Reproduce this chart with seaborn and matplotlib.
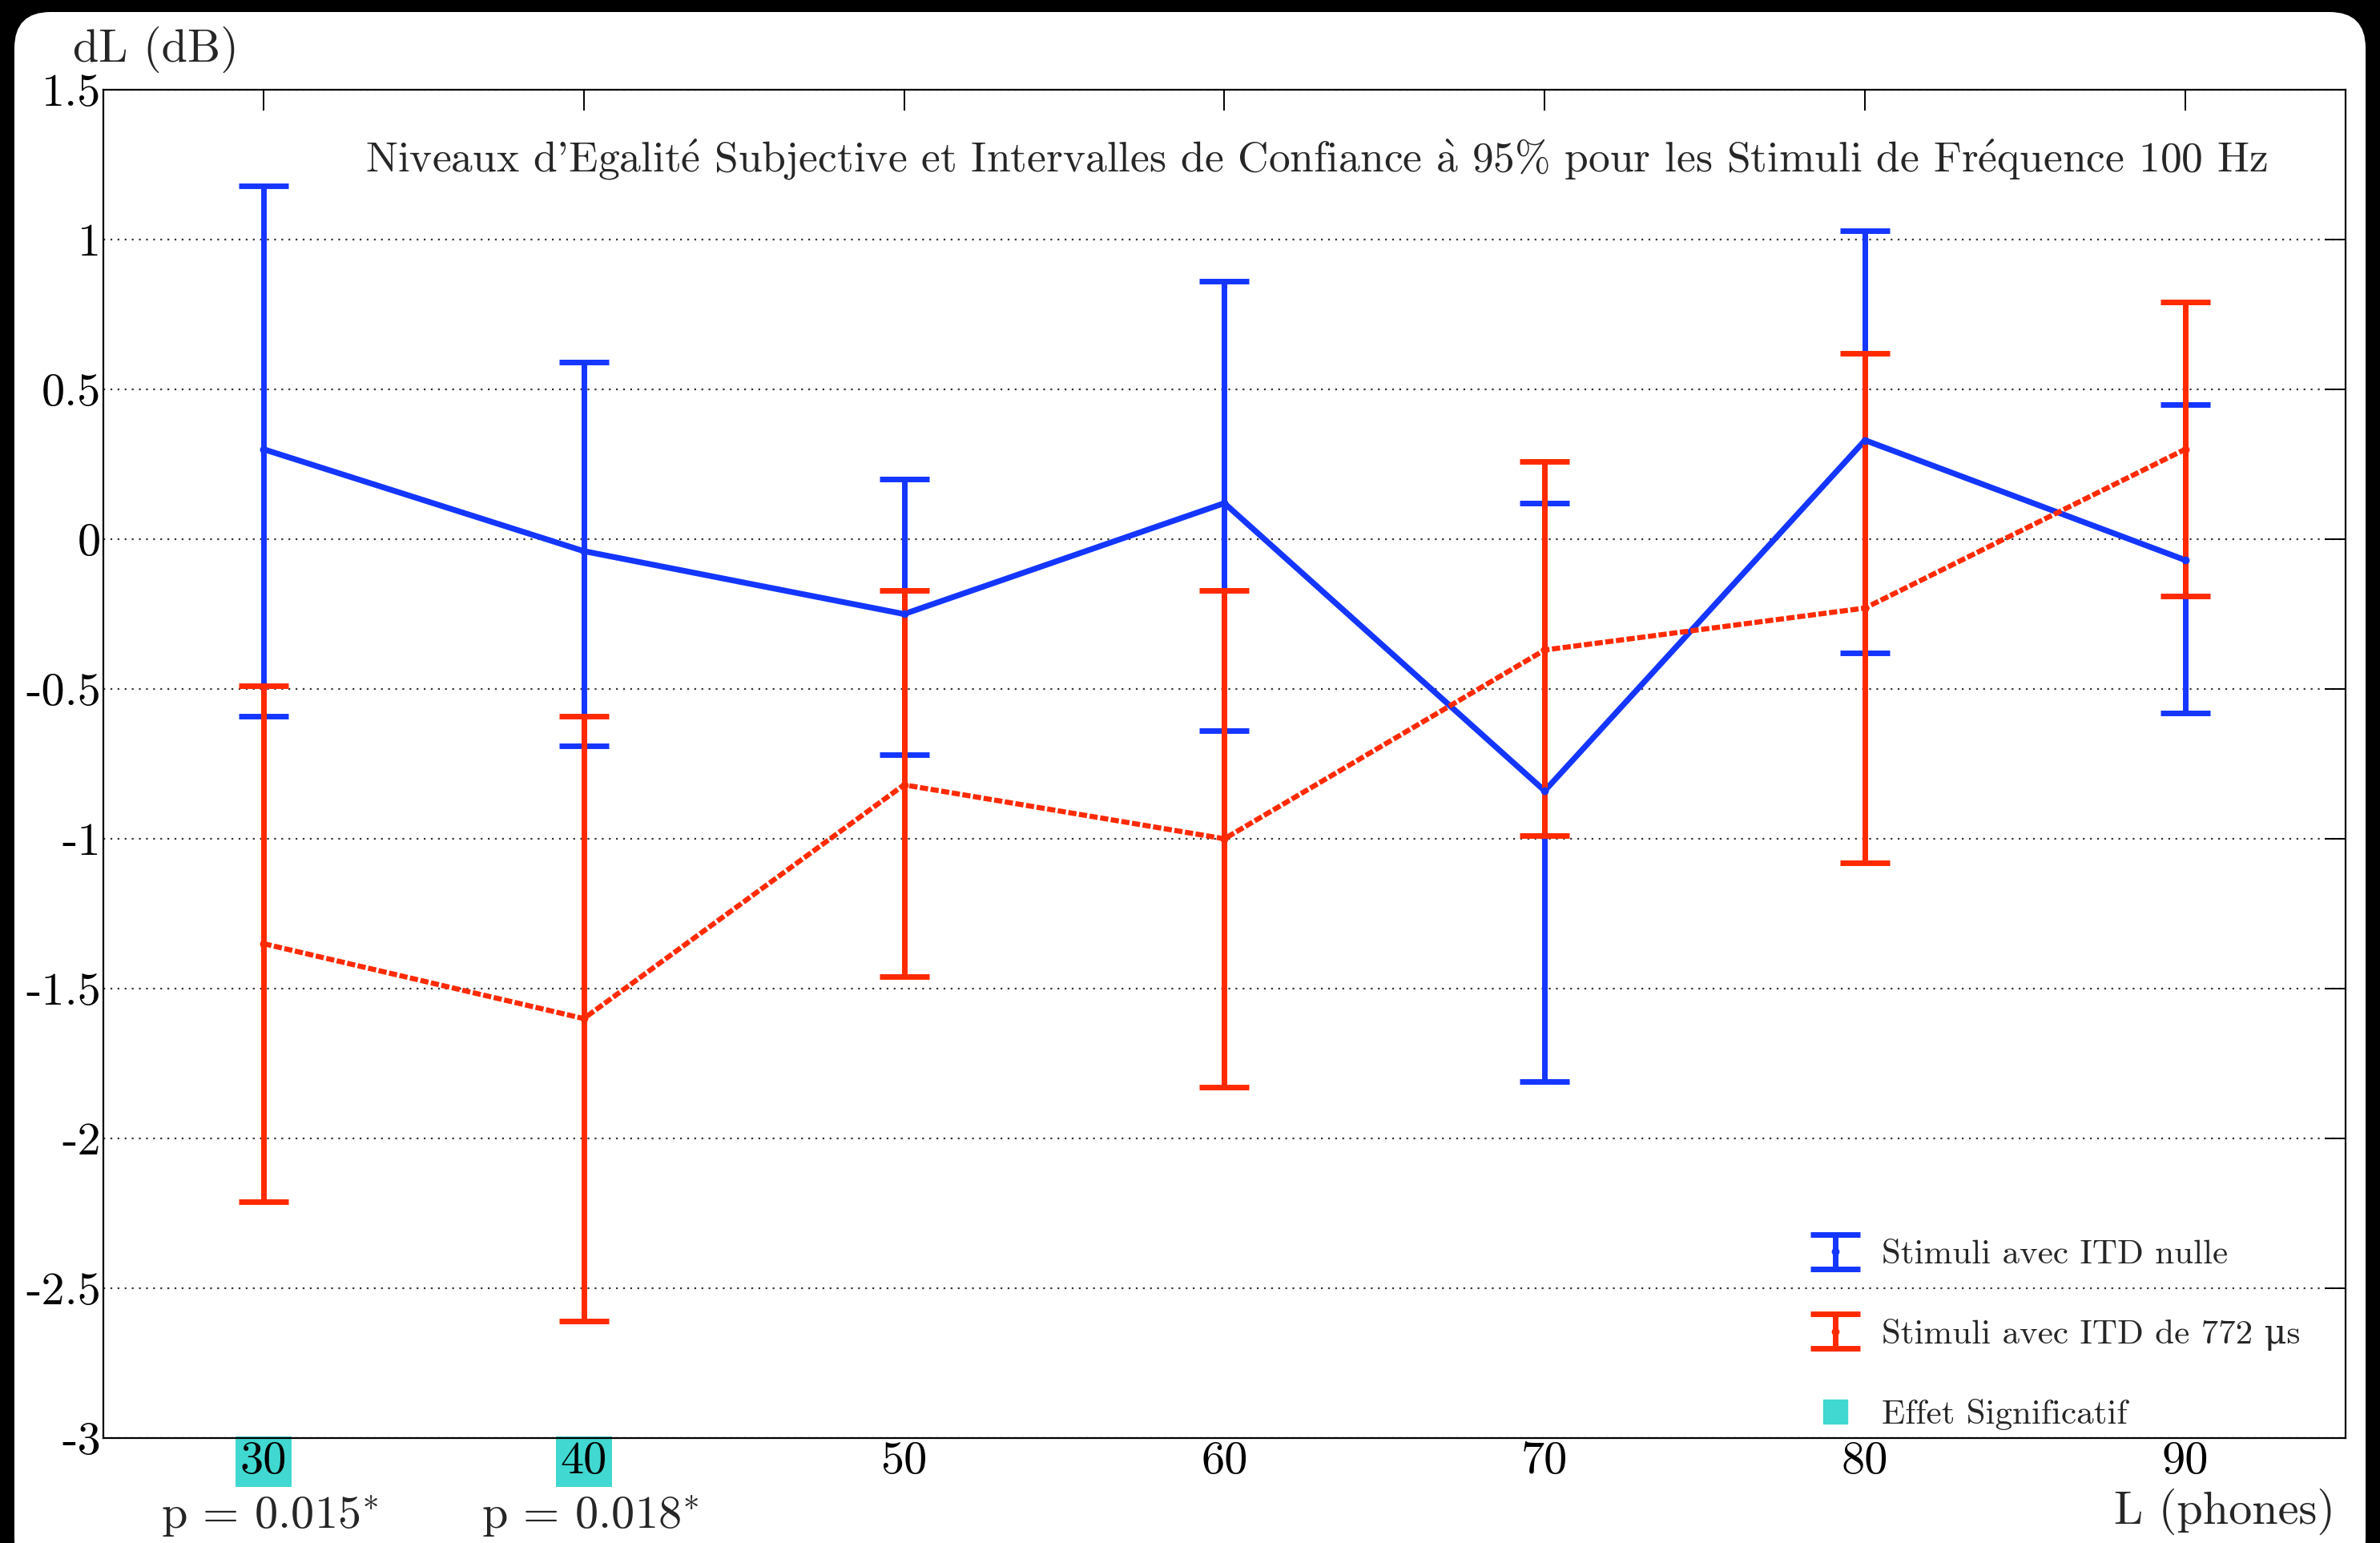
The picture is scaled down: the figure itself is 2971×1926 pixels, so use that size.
"""Niveaux d'egalite subjective, stimuli 100 Hz, avec intervalles de confiance a 95%."""

import matplotlib
matplotlib.use("Agg")
import matplotlib.pyplot as plt
import matplotlib.transforms as mtransforms
from matplotlib.lines import Line2D
from matplotlib.patches import FancyBboxPatch
import seaborn as sns

# --- data ---
levels = [30, 40, 50, 60, 70, 80, 90]

itd0_mean = [0.30, -0.04, -0.25, 0.12, -0.84, 0.33, -0.07]
itd0_upper = [1.18, 0.59, 0.20, 0.86, 0.12, 1.03, 0.45]
itd0_lower = [-0.59, -0.69, -0.72, -0.64, -1.81, -0.38, -0.58]

itd772_mean = [-1.35, -1.60, -0.82, -1.00, -0.37, -0.23, 0.30]
itd772_upper = [-0.49, -0.59, -0.17, -0.17, 0.26, 0.62, 0.79]
itd772_lower = [-2.21, -2.61, -1.46, -1.83, -0.99, -1.08, -0.19]

yticks = [1.5, 1, 0.5, 0, -0.5, -1, -1.5, -2, -2.5, -3]
ytick_labels = ["1.5", "1", "0.5", "0", "-0.5", "-1", "-1.5", "-2", "-2.5", "-3"]
xtick_labels = ["30", "40", "50", "60", "70", "80", "90"]

significant = [30, 40]
p_values = ["p = 0.015$^{*}$", "p = 0.018$^{*}$"]

# accents through mathtext so they stay in Computer Modern
TITLE = (r"Niveaux d'Egalit$\acute{\mathrm{e}}$ Subjective et Intervalles de Confiance "
         r"$\grave{\mathrm{a}}$ 95% pour les Stimuli de Fr$\acute{\mathrm{e}}$quence 100 Hz")
LABEL_ITD0 = "Stimuli avec ITD nulle"
LABEL_ITD772 = "Stimuli avec ITD de 772 \u03bcs"
LABEL_SIG = "Effet Significatif"

BLUE = "#1436ff"
RED = "#ff2a00"
CYAN = "#40d8d0"

sns.set_theme(style="white")
plt.rcParams["font.family"] = ["cmr10", "DejaVu Serif"]
plt.rcParams["mathtext.fontset"] = "cm"
plt.rcParams["axes.unicode_minus"] = False

fig = plt.figure(figsize=(29.71, 19.26), dpi=100)
fig.patch.set_facecolor("black")
# white rounded panel like the screenshot
panel = FancyBboxPatch((18, -40), 2935, 1951, boxstyle="round,pad=0,rounding_size=45",
                       transform=mtransforms.IdentityTransform(), facecolor="white",
                       edgecolor="none", zorder=-10)
fig.add_artist(panel)

ax = fig.add_axes([0.0434, 0.068, 0.9421, 0.8739])

sns.lineplot(x=levels, y=itd0_mean, color=BLUE, lw=5.2, marker="o", ms=6,
             mec=BLUE, ax=ax, legend=False)
sns.lineplot(x=levels, y=itd772_mean, color=RED, lw=4.6, marker="o", ms=6,
             mec=RED, ax=ax, legend=False)
ax.lines[-1].set_dashes((1.6, 0.5))

err0 = [[m - lo for m, lo in zip(itd0_mean, itd0_lower)],
        [up - m for m, up in zip(itd0_mean, itd0_upper)]]
err772 = [[m - lo for m, lo in zip(itd772_mean, itd772_lower)],
          [up - m for m, up in zip(itd772_mean, itd772_upper)]]
h0 = ax.errorbar(levels, itd0_mean, yerr=err0, fmt="o", ms=6, color=BLUE,
                 elinewidth=5, capsize=22, capthick=5, label=LABEL_ITD0)
h772 = ax.errorbar(levels, itd772_mean, yerr=err772, fmt="o", ms=6, color=RED,
                   elinewidth=5, capsize=22, capthick=5, label=LABEL_ITD772)

ax.set_xlim(25, 95)
ax.set_ylim(-3, 1.5)
ax.set_xticks(levels)
ax.set_xticklabels(xtick_labels)
ax.set_yticks(yticks)
ax.set_yticklabels(ytick_labels)
ax.yaxis.grid(True, linestyle=(0, (1, 3)), color="#333333", lw=1.6)
ax.xaxis.grid(False)
for s in ax.spines.values():
    s.set_color("black")
    s.set_linewidth(1.6)
ax.tick_params(axis="both", which="both", direction="in", length=19, width=1.4,
               colors="black", labelsize=42, top=True, right=True)
ax.tick_params(axis="x", pad=3)
ax.tick_params(axis="y", pad=2)

for lab in ax.get_xticklabels():
    if int(lab.get_text()) in significant:
        lab.set_bbox(dict(facecolor=CYAN, edgecolor="none", pad=4))

xtrans = ax.get_xaxis_transform()
for lvl, p in zip(significant, p_values):
    ax.text(lvl + 0.2, -0.058, p, transform=xtrans, ha="center", va="center", fontsize=42)

ax.text(0.541, 0.948, TITLE, transform=ax.transAxes, ha="center", va="center",
        fontsize=38.5)
fig.text(0.0306, 0.968, "dL (dB)", ha="left", va="center", fontsize=42)
fig.text(0.981, 0.020, "L (phones)", ha="right", va="center", fontsize=42)

sig_handle = Line2D([], [], marker="s", ls="none", ms=22, mfc=CYAN, mec=CYAN)
ax.legend([h0, h772, sig_handle], [LABEL_ITD0, LABEL_ITD772, LABEL_SIG],
          loc="lower left", bbox_to_anchor=(0.764, 0.006), frameon=False,
          borderpad=0, borderaxespad=0, fontsize=31, labelspacing=1.4,
          handlelength=1.1, handletextpad=0.8)

fig.savefig("out.png", dpi=100, facecolor=fig.get_facecolor())
